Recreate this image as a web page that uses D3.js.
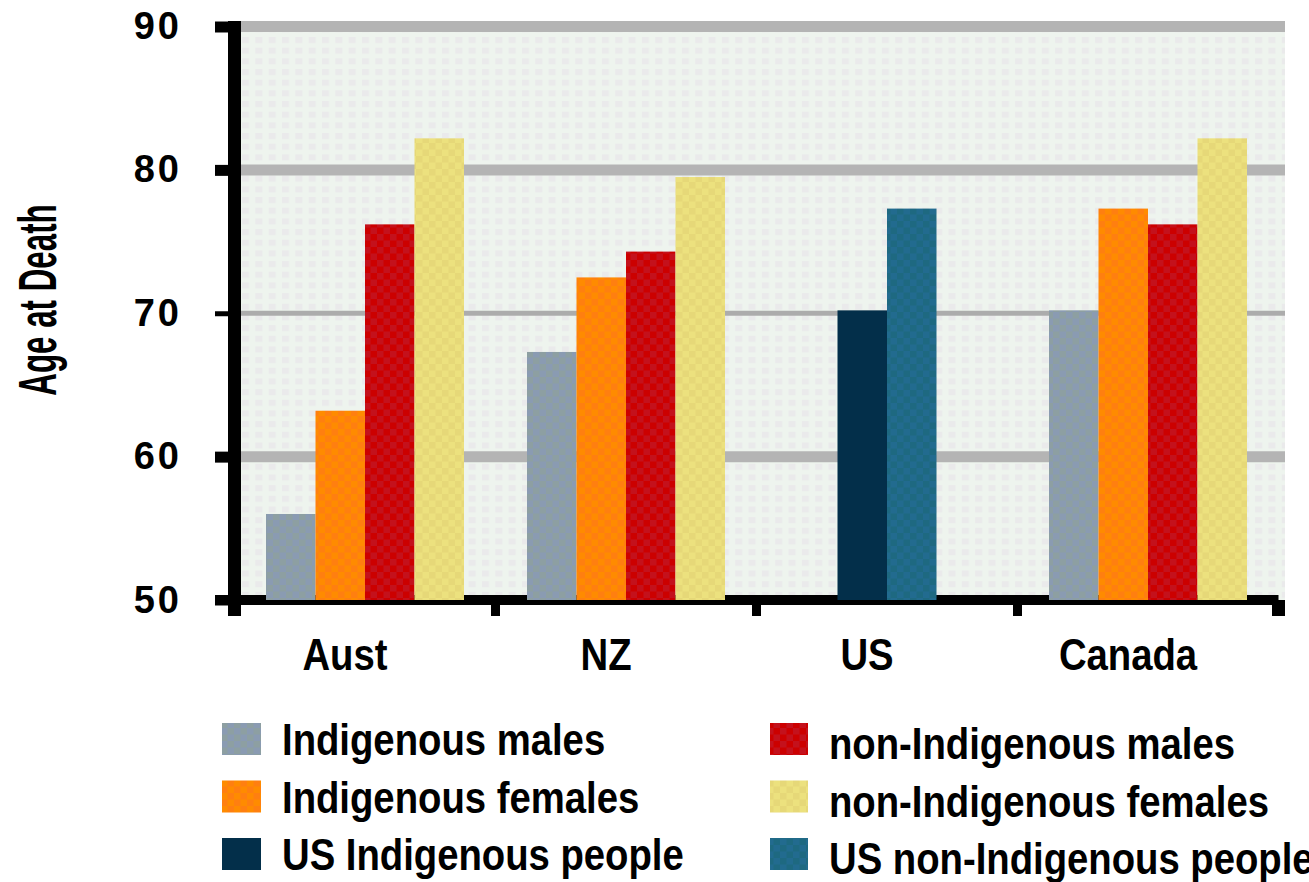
<!DOCTYPE html>
<html>
<head>
<meta charset="utf-8">
<script src="https://cdn.jsdelivr.net/npm/d3@7"></script>
<style>
  html, body { margin: 0; padding: 0; background: #ffffff; }
  svg { display: block; }
  text { font-family: "Liberation Sans", Arial, sans-serif; font-weight: bold; fill: #000; }
</style>
</head>
<body>
<svg id="chart" width="1309" height="882"></svg>
<script>
// ---- data ----
const categories = ["Aust", "NZ", "US", "Canada"];
const seriesNames = [
  "Indigenous males",
  "Indigenous females",
  "non-Indigenous males",
  "non-Indigenous females",
  "US Indigenous people",
  "US non-Indigenous people"
];
const indigenousMales      = [56.0, 67.3, null, 70.2];
const indigenousFemales    = [63.2, 72.5, null, 77.3];
const nonIndigenousMales   = [76.2, 74.3, null, 76.2];
const nonIndigenousFemales = [82.2, 79.5, null, 82.2];
const usIndigenous         = [null, null, 70.2, null];
const usNonIndigenous      = [null, null, 77.3, null];
const yTicks = [50, 60, 70, 80, 90];
const yTitle = "Age at Death";

const seriesValues = [
  indigenousMales, indigenousFemales, nonIndigenousMales,
  nonIndigenousFemales, usIndigenous, usNonIndigenous
];

// fill colours: [base, dither]
const seriesColors = [
  ["#8d9fa2", "#8a9bb2"],
  ["#ff7f10", "#ff8b00"],
  ["#cc0000", "#c4111c"],
  ["#ece17e", "#e6d878"],
  ["#032f4a", "#032f4a"],
  ["#226b8f", "#1e6981"]
];

// ---- layout ----
const svg = d3.select("#chart");
const plot = { left: 234.5, right: 1278.5, top: 26.5, bottom: 600 };
const barWidth = 49.5;

const x = d3.scaleBand().domain(categories).range([plot.left, plot.right]).padding(0);
const y = d3.scaleLinear().domain([50, 90]).range([plot.bottom, plot.top]);

const defs = svg.append("defs");

// dotted plot background
const dots = defs.append("pattern")
  .attr("id", "dots").attr("patternUnits", "userSpaceOnUse")
  .attr("x", 242).attr("y", 37).attr("width", 13.33).attr("height", 10.67);
dots.append("rect").attr("width", 13.33).attr("height", 10.67).attr("fill", "#eef4ee");
dots.append("rect").attr("width", 7).attr("height", 6).attr("fill", "#eaeaeb");

// dithered bar fills
seriesColors.forEach((c, i) => {
  const p = defs.append("pattern")
    .attr("id", "fill" + i).attr("patternUnits", "userSpaceOnUse")
    .attr("width", 13).attr("height", 13);
  p.append("rect").attr("width", 13).attr("height", 13).attr("fill", c[0]);
  p.append("rect").attr("width", 6.5).attr("height", 6.5).attr("fill", c[1]);
  p.append("rect").attr("x", 6.5).attr("y", 6.5).attr("width", 6.5).attr("height", 6.5).attr("fill", c[1]);
});

// plot background
svg.append("rect")
  .attr("x", 241).attr("y", 21)
  .attr("width", 1285 - 241).attr("height", plot.bottom - 21)
  .attr("fill", "url(#dots)");

// horizontal gridlines
const gridWidth = v => (v === 70 ? 5 : 11);
svg.append("g").selectAll("line")
  .data(yTicks.filter(v => v > 50))
  .join("line")
  .attr("x1", 235).attr("x2", 1285)
  .attr("y1", d => y(d)).attr("y2", d => y(d))
  .attr("stroke", d => (d === 70 ? "#acacac" : "#b4b4b4"))
  .attr("stroke-width", gridWidth);

// y axis
const yAxis = svg.append("g")
  .attr("transform", `translate(${plot.left},0)`)
  .call(d3.axisLeft(y).tickValues(yTicks).tickSize(19.5).tickPadding(33).tickFormat(d3.format("d")));
yAxis.select(".domain").remove();
yAxis.selectAll(".tick line")
  .attr("stroke", "#000")
  .attr("stroke-width", d => (d === 50 ? 10 : gridWidth(d)));
yAxis.selectAll(".tick text")
  .attr("dy", null)
  .attr("y", 12)
  .attr("font-size", 38)
  .attr("letter-spacing", 3)
  .attr("font-family", "Liberation Sans, Arial, sans-serif")
  .attr("font-weight", "bold");

// axis lines
svg.append("line")
  .attr("x1", 215).attr("x2", plot.right)
  .attr("y1", plot.bottom).attr("y2", plot.bottom)
  .attr("stroke", "#000").attr("stroke-width", 10);
svg.append("line")
  .attr("x1", plot.left).attr("x2", plot.left)
  .attr("y1", 21).attr("y2", 616)
  .attr("stroke", "#000").attr("stroke-width", 13);

// x axis: tick marks at band boundaries, labels at band centres
const boundaries = categories.map(c => x(c)).concat([plot.right]);
svg.append("g").selectAll("line")
  .data(boundaries)
  .join("line")
  .attr("x1", d => d).attr("x2", d => d)
  .attr("y1", plot.bottom).attr("y2", 616)
  .attr("stroke", "#000")
  .attr("stroke-width", (d, i) => (i === 0 || i === boundaries.length - 1 ? 13 : 9));

const xAxis = svg.append("g")
  .attr("transform", `translate(0,${plot.bottom})`)
  .call(d3.axisBottom(x).tickSize(0).tickPadding(39));
xAxis.select(".domain").remove();
xAxis.selectAll(".tick text")
  .attr("font-size", 44)
  .attr("font-family", "Liberation Sans, Arial, sans-serif")
  .attr("font-weight", "bold")
  .attr("transform", "translate(-20,0) scale(0.87,1)");

// bars, centred within each category band
const groups = categories.map((cat, ci) => {
  const present = seriesValues
    .map((vals, si) => ({ si, value: vals[ci] }))
    .filter(d => d.value != null);
  const center = x(cat) + x.bandwidth() / 2;
  const inner = d3.scaleBand()
    .domain(present.map(d => d.si))
    .range([center - present.length * barWidth / 2, center + present.length * barWidth / 2]);
  return present.map(d => ({ ...d, cat, x: inner(d.si), w: inner.bandwidth() }));
}).flat();

svg.append("g").selectAll("rect")
  .data(groups)
  .join("rect")
  .attr("x", d => d.x)
  .attr("width", d => d.w)
  .attr("y", d => y(d.value))
  .attr("height", d => y(50) - y(d.value))
  .attr("fill", d => `url(#fill${d.si})`);

// y axis title
svg.append("text")
  .attr("transform", "translate(56,300) rotate(-90) scale(0.58,1)")
  .attr("text-anchor", "middle")
  .attr("font-size", 54)
  .text(yTitle);

// legend: two columns of three
const legendRows = [723, 780.5, 838];
const legendItems = seriesNames.map((name, i) => {
  const col = [0, 0, 1, 1, 0, 1][i];
  const row = [0, 1, 0, 1, 2, 2][i];
  return { name, i, col, row };
});
const colSwatchX = [222, 770];
const colSwatchW = [39, 38];
const colTextX = [282, 829];
const colTextDy = [32, 36];

const legend = svg.append("g").selectAll("g")
  .data(legendItems)
  .join("g");
legend.append("rect")
  .attr("x", d => colSwatchX[d.col])
  .attr("y", d => legendRows[d.row])
  .attr("width", d => colSwatchW[d.col])
  .attr("height", 32)
  .attr("fill", d => `url(#fill${d.i})`);
legend.append("text")
  .attr("transform", d => `translate(${colTextX[d.col]},${legendRows[d.row] + colTextDy[d.col]}) scale(0.87,1)`)
  .attr("font-size", 44)
  .text(d => d.name);
</script>
</body>
</html>
